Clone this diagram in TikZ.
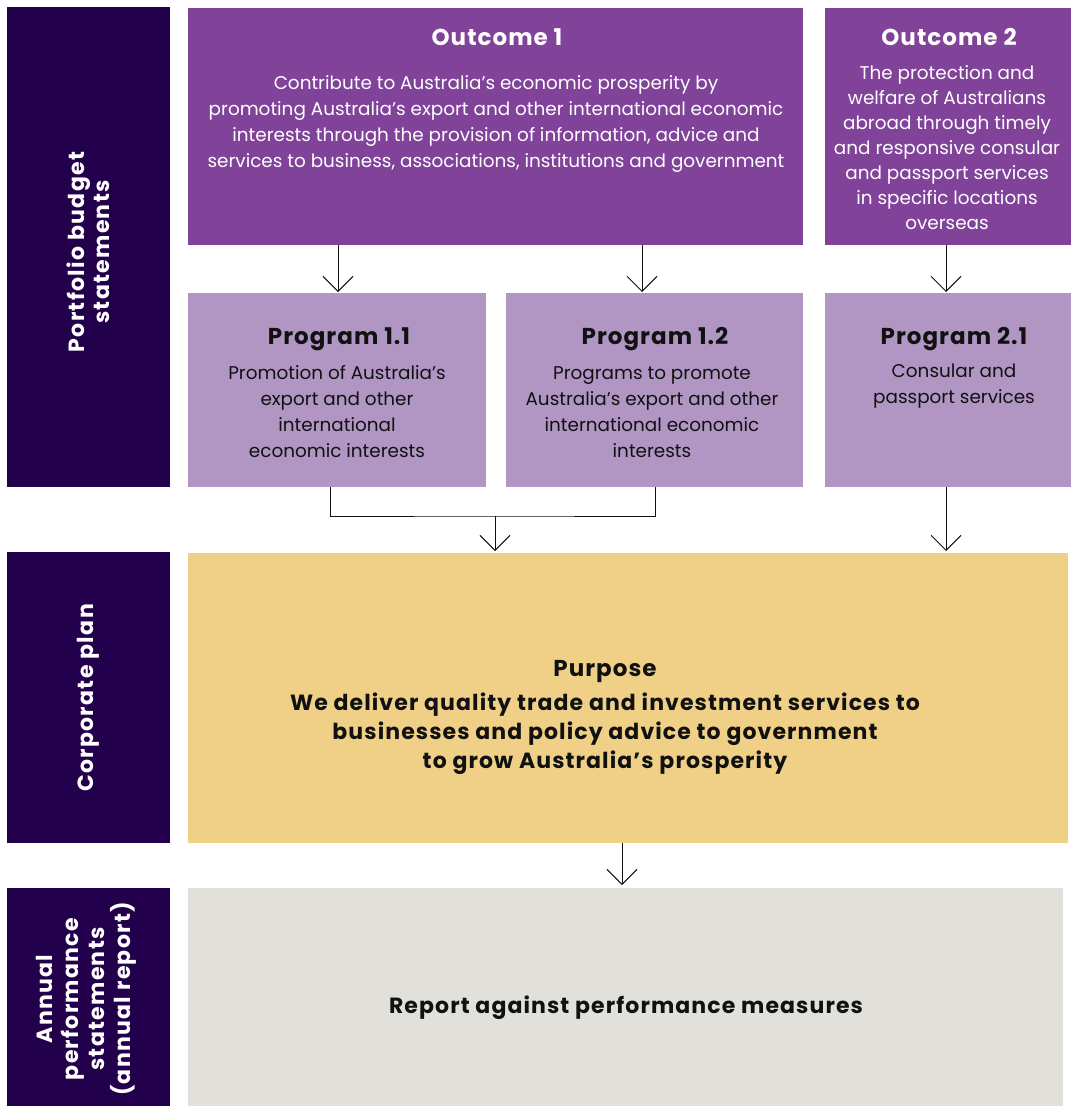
\documentclass[tikz,border=0pt]{standalone}
\usepackage{fontspec}
\setmainfont{Poppins}
\usetikzlibrary{arrows.meta}
\definecolor{darkp}{HTML}{22004B}
\definecolor{outp}{HTML}{81439A}
\definecolor{progp}{HTML}{B196C4}
\definecolor{yel}{HTML}{F0D087}
\definecolor{gry}{HTML}{E1E0DB}
\definecolor{ink}{HTML}{111111}
\newcommand{\tb}{\bfseries\addfontfeatures{LetterSpace=4.5}}
\begin{document}
\begin{tikzpicture}[x=1pt,y=-1pt,
  box/.style={anchor=north west, inner sep=0pt, outer sep=0pt, draw=none},
  side/.style={rotate=90, align=center, text=white, font=\fontsize{22}{25}\selectfont\bfseries\addfontfeatures{LetterSpace=6}},
  otitle/.style={text=white, font=\fontsize{23}{26}\selectfont\tb},
  obody/.style={text=white, align=center, inner sep=0pt},
  ptitle/.style={text=ink, font=\fontsize{23}{26}\selectfont\tb},
  pbody/.style={text=ink, align=center, inner sep=0pt, font=\fontsize{18.4}{26}\selectfont},
  conn/.style={draw=ink, line width=1pt, -{Straight Barb[length=15pt,width=30pt,line width=1pt]}},
  plain/.style={draw=ink, line width=1pt}]
\useasboundingbox (0,0) rectangle (1072,1106);
% left bars
\node[box, fill=darkp, minimum width=163pt, minimum height=480pt] (s1) at (7,7) {};
\node[box, fill=darkp, minimum width=163pt, minimum height=291pt] (s2) at (7,552) {};
\node[box, fill=darkp, minimum width=163pt, minimum height=218pt] (s3) at (7,888) {};
\node[side] (s1t) at (88,252) {Portfolio budget\\statements};
\node[side] (s2t) at (88,698) {Corporate plan};
\node[side, font=\fontsize{22}{26}\selectfont\bfseries\addfontfeatures{LetterSpace=6}] (s3t) at (86,999) {Annual\\performance\\statements\\(annual report)};
% outcomes
\node[box, fill=outp, minimum width=615pt, minimum height=237pt] (o1) at (188,8) {};
\node[box, fill=outp, minimum width=246pt, minimum height=237pt] (o2) at (825,8) {};
\node[otitle] (o1t) at (497,37) {Outcome 1};
\node[obody, font=\fontsize{18.4}{26.3}\selectfont] (o1b) at (496,124) {Contribute to Australia’s economic prosperity by\\promoting Australia’s export and other international economic\\interests through the provision of information, advice and\\services to business, associations, institutions and government};
\node[otitle] (o2t) at (949,37) {Outcome 2};
\node[obody, font=\fontsize{18.4}{25}\selectfont] (o2b) at (947,148) {The protection and\\welfare of Australians\\abroad through timely\\and responsive consular\\and passport services\\in specific locations\\overseas};
% programs
\node[box, fill=progp, minimum width=298pt, minimum height=194pt] (p11) at (188,293) {};
\node[box, fill=progp, minimum width=297pt, minimum height=194pt] (p12) at (506,293) {};
\node[box, fill=progp, minimum width=246pt, minimum height=194pt] (p21) at (825,293) {};
\node[ptitle] (p11t) at (339,339) {Program 1.1};
\node[pbody] (p11b) at (337,412) {Promotion of Australia’s\\export and other\\international\\economic interests};
\node[ptitle] (p12t) at (655,339) {Program 1.2};
\node[pbody] (p12b) at (652,412) {Programs to promote\\Australia’s export and other\\international economic\\interests};
\node[ptitle] (p21t) at (954,339) {Program 2.1};
\node[pbody] (p21b) at (954,386) {Consular and\\passport services};
% purpose
\node[box, fill=yel, minimum width=880pt, minimum height=290pt] (pu) at (188,553) {};
\node[ptitle] (put) at (605,671) {Purpose};
\node[text=ink, align=center, inner sep=0pt, font=\fontsize{22}{29}\selectfont\bfseries\addfontfeatures{LetterSpace=5}] (pub) at (605,734) {We deliver quality trade and investment services to\\businesses and policy advice to government\\to grow Australia’s prosperity};
% report
\node[box, fill=gry, minimum width=875pt, minimum height=218pt] (rp) at (188,888) {};
\node[text=ink, font=\fontsize{22}{25}\selectfont\bfseries\addfontfeatures{LetterSpace=5}] (rpt) at (626,1008) {Report against performance measures};
% connectors
\coordinate (a1) at (338,245);
\coordinate (a2) at (642,245);
\coordinate (a3) at (946,245);
\draw[conn] (a1) -- (338,292);
\draw[conn] (a2) -- (642,292);
\draw[conn] (a3) -- (946,292);
\coordinate (b1) at (330,487);
\coordinate (b2) at (655,487);
\coordinate (bj) at (495,516);
\draw[plain] (b1) |- (bj) -| (b2);
\draw[conn] (bj) -- (495,551);
\draw[conn] (946,487) -- (946,551);
\draw[conn] (622,843) -- (622,885);
\end{tikzpicture}
\end{document}
